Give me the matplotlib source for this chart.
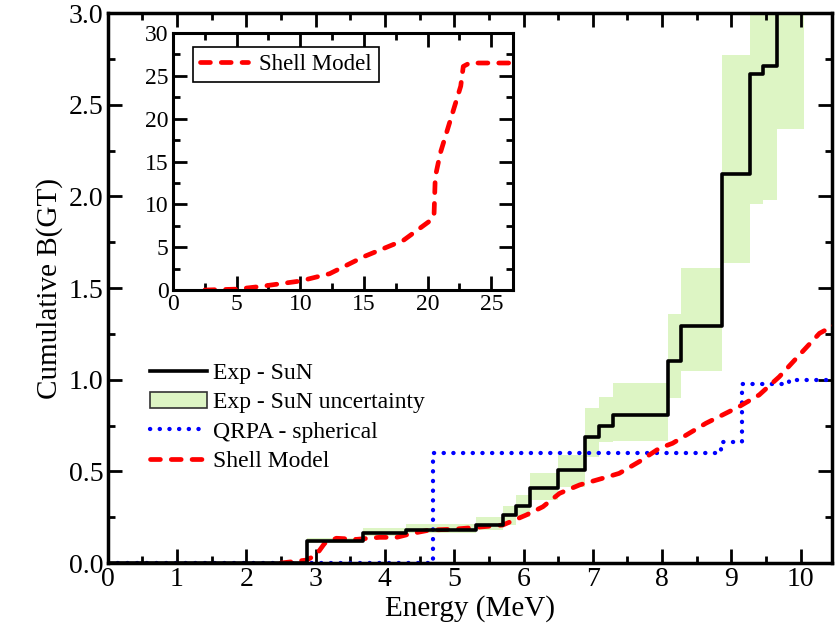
import numpy as np
import matplotlib.pyplot as plt
from matplotlib.patches import Patch
from matplotlib.lines import Line2D

plt.rcParams['font.family'] = ['Liberation Serif', 'DejaVu Serif']
plt.rcParams['mathtext.fontset'] = 'stix'

# Exp - SuN cumulative B(GT): bin edges (MeV), levels and uncertainty limits
sun_edges = [0, 2.87, 3.68, 4.30, 5.32, 5.70, 5.89, 6.10, 6.50, 6.89, 7.09,
             7.29, 8.08, 8.27, 8.87, 9.27, 9.46, 9.66, 10.05]
sun_level = [0, 0.12, 0.162, 0.18, 0.205, 0.26, 0.31, 0.41, 0.51, 0.69,
             0.745, 0.81, 1.10, 1.295, 2.12, 2.67, 2.71, 3.3]
sun_low = [0, 0.11, 0.15, 0.165, 0.18, 0.21, 0.253, 0.344, 0.416, 0.58,
           0.66, 0.666, 0.90, 1.05, 1.635, 1.96, 1.98, 2.37]
sun_high = [0, 0.135, 0.19, 0.215, 0.253, 0.311, 0.371, 0.489, 0.589, 0.844,
            0.907, 0.984, 1.36, 1.61, 2.77, 3.3, 3.3, 3.3]

# QRPA - spherical
qrpa_edges = [0, 4.70, 8.85, 9.15, 9.83, 10.6]
qrpa_level = [0, 0.60, 0.662, 0.975, 1.0]

# Shell model, low-energy part
sm_e = [2.5, 2.87, 3.01, 3.13, 3.30, 3.59, 3.92, 4.17, 4.40, 4.65, 4.98,
        5.27, 5.70, 6.04, 6.28, 6.52, 6.81, 7.14, 7.38, 7.67, 7.96, 8.15,
        8.63, 9.11, 9.40, 9.69, 9.98, 10.27, 10.5]
sm_b = [0.0, 0.016, 0.044, 0.107, 0.135, 0.129, 0.14, 0.14, 0.162, 0.18,
        0.184, 0.193, 0.207, 0.262, 0.307, 0.38, 0.426, 0.462, 0.489, 0.553,
        0.626, 0.653, 0.762, 0.853, 0.917, 1.016, 1.135, 1.253, 1.30]

# Shell model over the full energy range (inset)
sm_full_e = [2.5, 5.0, 6.8, 10.0, 12.3, 15.0, 18.1, 20.3, 20.5, 20.6, 21.0,
             21.8, 22.6, 22.8, 23.3, 26.5]
sm_full_b = [0.0, 0.1, 0.4, 1.05, 1.9, 3.9, 5.8, 8.2, 8.6, 13.2, 16.0,
             19.9, 23.8, 26.1, 26.5, 26.5]

green = '#ddf5c4'
dots = dict(color='blue', linestyle=(0, (0.05, 2.2)), linewidth=3.1,
            dash_capstyle='round')
dashes = dict(color='red', linestyle=(0, (2.1, 2.3)), linewidth=3.4,
              dash_capstyle='round')


def style_axes(ax, lw=2.5):
    for s in ax.spines.values():
        s.set_linewidth(lw)
    ax.tick_params(which='both', direction='in', top=True, right=True)
    ax.tick_params(which='major', length=10, width=2)
    ax.tick_params(which='minor', length=5, width=2)


def step_line(ax, edges, levels, **kw):
    # histogram-style step curve through the bin edges
    ax.step(edges, list(levels) + [levels[-1]], where='post', **kw)


fig = plt.figure(figsize=(8.38, 6.23), dpi=100)
ax = fig.add_axes([0.1284, 0.0963, 0.8644, 0.8827])

widths = np.diff(sun_edges)
ax.bar(sun_edges[:-1], np.array(sun_high) - np.array(sun_low), width=widths,
       bottom=sun_low, align='edge', color=green, linewidth=0, zorder=1)
step_line(ax, qrpa_edges, qrpa_level, zorder=2, **dots)
ax.plot(sm_e, sm_b, zorder=3, **dashes)
step_line(ax, sun_edges, sun_level, color='black', linewidth=2.6, zorder=4)

ax.set_xlim(0, 10.45)
ax.set_ylim(0, 3.0)
ax.set_xticks(np.arange(0, 11, 1))
ax.set_xticks(np.arange(0.5, 10.5, 1), minor=True)
ax.set_yticks(np.arange(0, 3.01, 0.5))
ax.set_yticks(np.arange(0.25, 3.0, 0.5), minor=True)
ax.yaxis.set_major_formatter(plt.FormatStrFormatter('%.1f'))
style_axes(ax)
ax.tick_params(labelsize=20, pad=3)
ax.set_xlabel('Energy (MeV)', fontsize=21, labelpad=2)
ax.set_ylabel('Cumulative B(GT)', fontsize=21, labelpad=4)

handles = [
    Line2D([], [], color='black', linewidth=2.6),
    Patch(facecolor=green, edgecolor='#333333', linewidth=1.2),
    Line2D([], [], **dots),
    Line2D([], [], **dashes),
]
labels = ['Exp - SuN', 'Exp - SuN uncertainty', 'QRPA - spherical',
          'Shell Model']
ax.legend(handles, labels, loc='upper left', bbox_to_anchor=(0.046, 0.382),
          frameon=False, fontsize=17, handlelength=2.4, handletextpad=0.25,
          labelspacing=0.33, borderaxespad=0)

# inset with the full shell-model strength
ins = fig.add_axes([0.2064, 0.5345, 0.4057, 0.4125])
ins.plot(sm_full_e, sm_full_b, label='Shell Model', **dashes)
ins.set_xlim(0, 26.7)
ins.set_ylim(0, 30)
ins.set_xticks(np.arange(0, 26, 5))
ins.set_xticks(np.arange(2.5, 26, 5), minor=True)
ins.set_yticks(np.arange(0, 31, 5))
ins.set_yticks(np.arange(2.5, 30, 5), minor=True)
style_axes(ins, lw=2.2)
ins.tick_params(labelsize=17, pad=3)
leg = ins.legend(loc='upper left', fontsize=16.5, handlelength=2.1,
                 handletextpad=0.5, fancybox=False, framealpha=1,
                 edgecolor='black', borderpad=0.3, borderaxespad=0,
                 bbox_to_anchor=(0.058, 0.945))
leg.get_frame().set_linewidth(1.2)

fig.savefig('out.png', dpi=100)
